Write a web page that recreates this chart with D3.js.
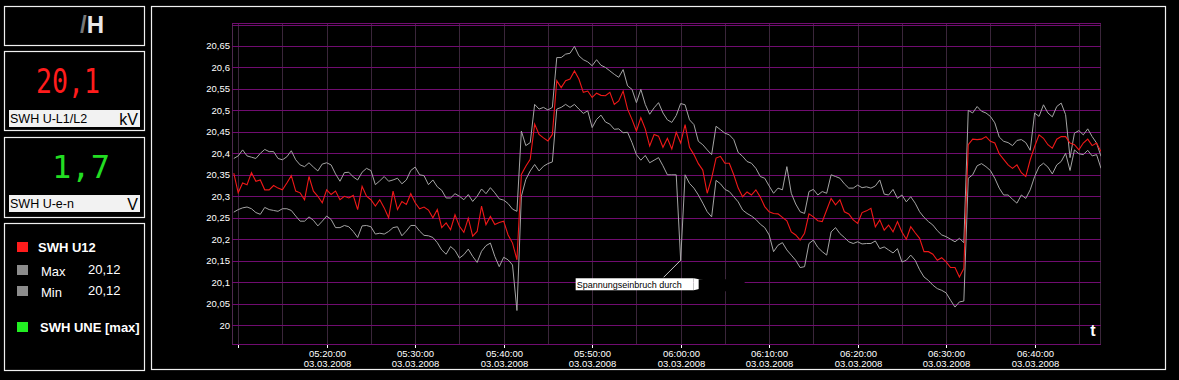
<!DOCTYPE html>
<html><head><meta charset="utf-8">
<script src="https://cdn.jsdelivr.net/npm/d3@7"></script>
<style>html,body{margin:0;padding:0;background:#000;overflow:hidden}svg{display:block}</style>
</head><body><svg id="c" width="1179" height="380"></svg>
<script>
// ---- data ----
const startTime = "2008-03-03T05:09:30";
const stepSeconds = 30;
const domainStart = "2008-03-03T05:09:18";
const domainEnd = "2008-03-03T06:47:30";

const u12 = [20.354,20.308,20.331,20.327,20.355,20.335,20.338,20.315,20.315,20.325,
20.319,20.315,20.331,20.348,20.312,20.308,20.292,20.346,20.312,20.300,
20.285,20.315,20.304,20.312,20.292,20.300,20.296,20.302,20.269,20.323,
20.300,20.292,20.277,20.292,20.273,20.250,20.312,20.269,20.288,20.281,
20.306,20.285,20.271,20.275,20.268,20.250,20.269,20.227,20.238,20.222,
20.257,20.230,20.216,20.249,20.207,20.218,20.277,20.234,20.253,20.234,
20.239,20.242,20.210,20.191,20.152,20.351,20.370,20.386,20.468,20.444,
20.436,20.429,20.444,20.569,20.553,20.569,20.573,20.592,20.573,20.542,
20.545,20.530,20.540,20.535,20.534,20.542,20.514,20.522,20.545,20.503,
20.479,20.452,20.483,20.457,20.417,20.444,20.440,20.414,20.435,20.410,
20.449,20.424,20.467,20.414,20.397,20.376,20.361,20.307,20.342,20.389,
20.393,20.377,20.377,20.350,20.319,20.299,20.310,20.303,20.315,20.298,
20.276,20.264,20.260,20.259,20.251,20.243,20.217,20.210,20.198,20.214,
20.259,20.252,20.243,20.241,20.268,20.295,20.280,20.292,20.264,20.259,
20.245,20.237,20.262,20.266,20.272,20.229,20.245,20.221,20.233,20.217,
20.241,20.217,20.200,20.229,20.215,20.202,20.171,20.171,20.165,20.151,
20.157,20.147,20.134,20.134,20.112,20.132,20.420,20.433,20.432,20.433,
20.439,20.428,20.424,20.399,20.386,20.373,20.365,20.373,20.355,20.346,
20.385,20.416,20.443,20.435,20.420,20.412,20.433,20.439,20.439,20.424,
20.420,20.408,20.424,20.433,20.418,20.424,20.404];

const maxVals = [20.388,20.394,20.408,20.394,20.391,20.388,20.400,20.409,20.404,20.404,
20.388,20.385,20.392,20.406,20.385,20.373,20.369,20.378,20.368,20.359,
20.375,20.378,20.373,20.352,20.335,20.355,20.356,20.345,20.338,20.356,
20.365,20.360,20.327,20.336,20.346,20.335,20.338,20.342,20.329,20.338,
20.360,20.368,20.350,20.348,20.327,20.338,20.322,20.314,20.296,20.296,
20.306,20.300,20.292,20.304,20.288,20.300,20.317,20.306,20.320,20.308,
20.294,20.291,20.283,20.270,20.265,20.452,20.418,20.425,20.514,20.503,
20.507,20.501,20.507,20.623,20.623,20.631,20.633,20.649,20.627,20.618,
20.613,20.604,20.618,20.605,20.600,20.592,20.584,20.577,20.595,20.557,
20.549,20.518,20.549,20.514,20.491,20.506,20.518,20.494,20.478,20.472,
20.488,20.516,20.513,20.478,20.467,20.428,20.420,20.408,20.397,20.463,
20.455,20.447,20.443,20.432,20.402,20.393,20.381,20.377,20.365,20.346,
20.342,20.324,20.307,20.319,20.315,20.369,20.307,20.282,20.264,20.260,
20.311,20.316,20.303,20.311,20.307,20.350,20.346,20.342,20.329,20.319,
20.319,20.326,20.320,20.322,20.319,20.324,20.338,20.305,20.303,20.316,
20.295,20.303,20.287,20.299,20.284,20.264,20.251,20.241,20.233,20.220,
20.210,20.206,20.200,20.194,20.202,20.192,20.500,20.494,20.509,20.498,
20.494,20.486,20.471,20.438,20.428,20.425,20.418,20.430,20.432,20.425,
20.407,20.494,20.486,20.513,20.494,20.485,20.509,20.517,20.490,20.390,
20.447,20.453,20.443,20.457,20.439,20.424,20.393];

const minVals = [20.263,20.269,20.273,20.275,20.271,20.262,20.258,20.274,20.269,20.267,
20.265,20.271,20.271,20.267,20.254,20.242,20.242,20.252,20.244,20.231,
20.242,20.254,20.246,20.227,20.227,20.232,20.229,20.218,20.204,20.231,
20.232,20.229,20.212,20.214,20.212,20.218,20.227,20.229,20.208,20.219,
20.232,20.232,20.219,20.209,20.208,20.204,20.192,20.175,20.165,20.183,
20.174,20.156,20.164,20.177,20.160,20.146,20.172,20.185,20.191,20.160,
20.136,20.158,20.152,20.140,20.034,20.300,20.339,20.359,20.374,20.359,
20.370,20.376,20.380,20.503,20.507,20.514,20.507,20.514,20.503,20.493,
20.499,20.460,20.479,20.489,20.473,20.468,20.456,20.457,20.448,20.449,
20.425,20.397,20.384,20.395,20.378,20.384,20.390,20.371,20.350,20.350,
20.350,20.151,20.350,20.330,20.319,20.303,20.284,20.264,20.252,20.337,
20.329,20.316,20.311,20.299,20.287,20.268,20.260,20.254,20.246,20.235,
20.227,20.210,20.171,20.186,20.192,20.175,20.163,20.151,20.134,20.136,
20.190,20.198,20.181,20.171,20.163,20.217,20.227,20.213,20.204,20.194,
20.190,20.194,20.189,20.190,20.190,20.196,20.178,20.182,20.175,20.168,
20.178,20.147,20.151,20.163,20.151,20.129,20.112,20.104,20.093,20.085,
20.081,20.075,20.058,20.042,20.054,20.056,20.342,20.350,20.371,20.376,
20.369,20.360,20.342,20.319,20.303,20.303,20.293,20.284,20.303,20.295,
20.315,20.346,20.369,20.377,20.368,20.352,20.373,20.381,20.400,20.360,
20.408,20.399,20.397,20.407,20.394,20.397,20.365];

const yTicks = [20,20.05,20.1,20.15,20.2,20.25,20.3,20.35,20.4,20.45,20.5,20.55,20.6,20.65,20.7];
const yTickLabels = ["20","20,05","20,1","20,15","20,2","20,25","20,3","20,35","20,4","20,45","20,5","20,55","20,6","20,65",""];
const xTickTimes = ["05:10:00","05:20:00","05:30:00","05:40:00","05:50:00","06:00:00","06:10:00","06:20:00","06:30:00","06:40:00"];
const xTickShown = [false,true,true,true,true,true,true,true,true,true];
const xDate = "03.03.2008";
const gridMinutes = ["05:10","05:15","05:20","05:25","05:30","05:35","05:40","05:45","05:50","05:55","06:00","06:05","06:10","06:15","06:20","06:25","06:30","06:35","06:40","06:45"];

const legendMain = "SWH U12", legendMax = "Max", legendMin = "Min", maxText = "20,12", minText = "20,12", legendUne = "SWH UNE [max]";
const meter1Value = "20,1", meter1Label = "SWH U-L1/L2", meter1Unit = "kV";
const meter2Value = "1,7", meter2Label = "SWH U-e-n", meter2Unit = "V";
const annotationText = "Spannungseinbruch durch";
const annotationIndex = 101;

// ---- drawing ----
const FONT = "'Liberation Sans', Arial, sans-serif";
const svg = d3.select("#c");
svg.append("rect").attr("width",1179).attr("height",380).attr("fill","#000");

const t0 = new Date(startTime);
const tAt = i => new Date(t0.getTime() + i*stepSeconds*1000);
const day = s => new Date("2008-03-03T" + (s.length===5 ? s+":00" : s));

const L=232, R=1101, T=24.5, B=344;
const x = d3.scaleTime().domain([new Date(domainStart), new Date(domainEnd)]).range([L,R]);
const y = d3.scaleLinear().domain([19.956, 20.70]).range([B,T]);

// panels
function panel(x0,y0,w,h){ svg.append("rect").attr("x",x0+0.5).attr("y",y0+0.5).attr("width",w).attr("height",h).attr("fill","none").attr("stroke","#f0f0f0").attr("stroke-width",1.2); }
panel(4,6,140,39);
panel(4,51,140,79);
panel(4,137,140,80);
panel(4,223,140,147);
panel(151,6,1014,363);

// icon in panel 1
const ic = svg.append("text").attr("x",80).attr("y",33).attr("font-family",FONT).attr("font-weight","bold").attr("font-size",24);
ic.append("tspan").attr("fill","#777").text("/");
ic.append("tspan").attr("fill","#e8e8e8").text("H");

// meter 1
svg.append("text").attr("x",36).attr("y",93).attr("font-family","'DejaVu Sans Mono', monospace").attr("font-size",34)
  .attr("fill","#ff1c1c").attr("textLength",64).attr("lengthAdjust","spacingAndGlyphs").text(meter1Value);
svg.append("rect").attr("x",9).attr("y",110).attr("width",131).attr("height",17).attr("fill","#f2f2f2");
svg.append("text").attr("x",10).attr("y",123).attr("font-family",FONT).attr("font-size",12.5).attr("fill","#000").text(meter1Label);
svg.append("text").attr("x",138).attr("y",124.5).attr("text-anchor","end").attr("font-family",FONT).attr("font-size",16).attr("fill","#000").text(meter1Unit);

// meter 2
svg.append("text").attr("x",52).attr("y",178).attr("font-family","'DejaVu Sans Mono', monospace").attr("font-size",32)
  .attr("fill","#22dd22").attr("textLength",58).attr("lengthAdjust","spacingAndGlyphs").text(meter2Value);
svg.append("rect").attr("x",9).attr("y",195).attr("width",131).attr("height",17).attr("fill","#f2f2f2");
svg.append("text").attr("x",10).attr("y",208).attr("font-family",FONT).attr("font-size",12.5).attr("fill","#000").text(meter2Label);
svg.append("text").attr("x",138).attr("y",209.5).attr("text-anchor","end").attr("font-family",FONT).attr("font-size",16).attr("fill","#000").text(meter2Unit);

// legend
function sw(yy,c){ svg.append("rect").attr("x",17).attr("y",yy).attr("width",11).attr("height",10).attr("fill",c); }
sw(242,"#ff1c1c"); sw(265,"#8c8c8c"); sw(286,"#8c8c8c"); sw(322,"#22ee22");
svg.append("text").attr("x",38).attr("y",252).attr("font-family",FONT).attr("font-weight","bold").attr("font-size",13).attr("fill","#fff").text(legendMain);
svg.append("text").attr("x",41).attr("y",276).attr("font-family",FONT).attr("font-size",13).attr("fill","#fff").text(legendMax);
svg.append("text").attr("x",88).attr("y",274).attr("font-family",FONT).attr("font-size",13).attr("fill","#fff").text(maxText);
svg.append("text").attr("x",41).attr("y",297).attr("font-family",FONT).attr("font-size",13).attr("fill","#fff").text(legendMin);
svg.append("text").attr("x",88).attr("y",295).attr("font-family",FONT).attr("font-size",13).attr("fill","#fff").text(minText);
svg.append("text").attr("x",40).attr("y",332).attr("font-family",FONT).attr("font-weight","bold").attr("font-size",13).attr("fill","#fff").text(legendUne);

// grid
const g = svg.append("g");
g.selectAll("line.v").data(gridMinutes).join("line").attr("class","v")
  .attr("x1",d=>Math.round(x(day(d)))+0.5).attr("x2",d=>Math.round(x(day(d)))+0.5)
  .attr("y1",23).attr("y2",B).attr("stroke","#3a263a").attr("stroke-width",1);
g.append("line").attr("x1",L+0.5).attr("x2",L+0.5).attr("y1",23).attr("y2",B).attr("stroke","#4e2a4e");
g.append("line").attr("x1",1100.5).attr("x2",1100.5).attr("y1",23).attr("y2",B).attr("stroke","#3a263a");
g.selectAll("line.h").data(yTicks).join("line").attr("class","h")
  .attr("x1",L).attr("x2",1101).attr("y1",d=>Math.round(y(d))+0.5).attr("y2",d=>Math.round(y(d))+0.5)
  .attr("stroke","#700c70").attr("stroke-width",1);
g.append("line").attr("x1",L).attr("x2",1101).attr("y1",23.5).attr("y2",23.5).attr("stroke","#700c70");
g.append("line").attr("x1",L).attr("x2",1101).attr("y1",B+0.5).attr("y2",B+0.5).attr("stroke","#700c70");

// y labels
svg.selectAll("text.yl").data(yTicks).join("text").attr("class","yl")
  .attr("x",230).attr("y",d=>y(d)).attr("dy","0.36em").attr("text-anchor","end")
  .attr("font-family",FONT).attr("font-size",9.5).attr("fill","#fff").text((d,i)=>yTickLabels[i]);

// x axis ticks + labels
const xa = svg.append("g");
xTickTimes.forEach((s,i)=>{
  const xx = Math.round(x(day(s)))+0.5;
  xa.append("line").attr("x1",xx).attr("x2",xx).attr("y1",B+1).attr("y2",B+4).attr("stroke","#fff");
  if (xTickShown[i]) {
    const tx = xa.append("text").attr("x",xx).attr("text-anchor","middle").attr("font-family",FONT).attr("font-size",9.5).attr("fill","#fff");
    tx.append("tspan").attr("x",xx).attr("y",357).text(s);
    tx.append("tspan").attr("x",xx).attr("y",367).text(xDate);
  }
});
svg.append("text").attr("x",1093).attr("y",336).attr("text-anchor","middle").attr("font-family",FONT).attr("font-weight","bold").attr("font-size",16).attr("fill","#fff").text("t");

// series
svg.append("clipPath").attr("id","pc").append("rect").attr("x",L).attr("y",T-2).attr("width",R-L).attr("height",B-T+2);
const line = d3.line().x((d,i)=>x(tAt(i))).y(d=>y(d));
const sg = svg.append("g").attr("clip-path","url(#pc)");
sg.append("path").attr("d",line(maxVals)).attr("fill","none").attr("stroke","#a4a4a4").attr("stroke-width",1);
sg.append("path").attr("d",line(minVals)).attr("fill","none").attr("stroke","#a4a4a4").attr("stroke-width",1);
sg.append("path").attr("d",line(u12)).attr("fill","none").attr("stroke","#f01818").attr("stroke-width",1.1);

// annotation
const ax = x(tAt(annotationIndex)), ay = y(minVals[annotationIndex]);
svg.append("line").attr("x1",ax).attr("y1",ay).attr("x2",ax-17).attr("y2",ay+17).attr("stroke","#c8c8c8");
svg.append("rect").attr("x",ax-105).attr("y",ay+18).attr("width",118).attr("height",12).attr("fill","#fff");
svg.append("path").attr("d",`M${ax+13},${ay+18} L${ax+24},${ay+20} L${ax+20},${ay+24} L${ax+26},${ay+27} L${ax+13},${ay+30} Z`).attr("fill","#fff");
svg.append("rect").attr("x",ax+18).attr("y",ay+19).attr("width",46).attr("height",12).attr("fill","#000");
svg.append("text").attr("x",ax-104).attr("y",ay+27.5).attr("font-family",FONT).attr("font-size",9).attr("fill","#000").text(annotationText);
</script></body></html>
